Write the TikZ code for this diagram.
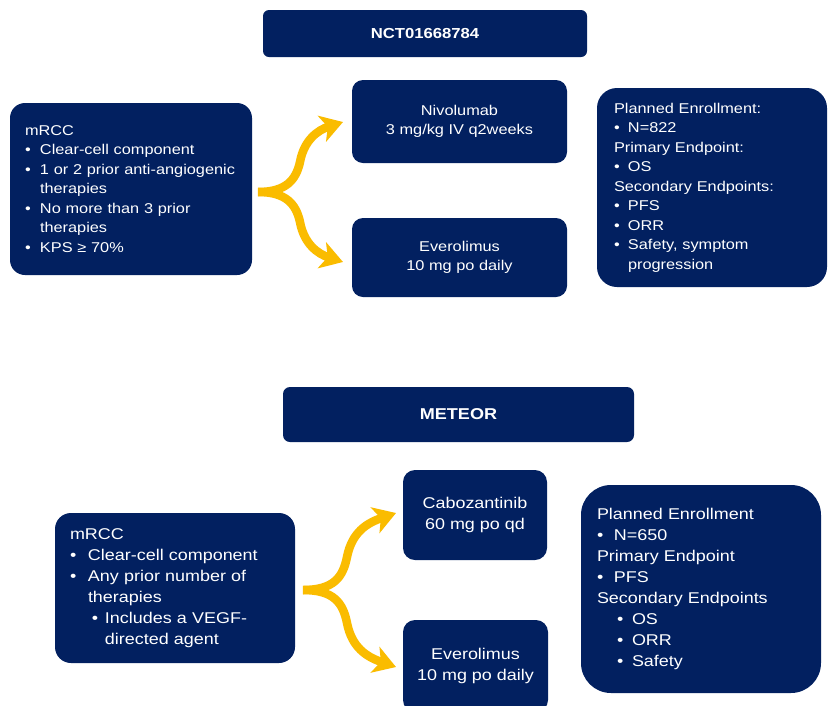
\documentclass[tikz,border=0pt]{standalone}
\usepackage{fontspec}
\setmainfont{Liberation Sans}[FakeStretch=1.15]
\usetikzlibrary{arrows.meta}
\definecolor{navy}{RGB}{2,32,96}
\definecolor{gold}{RGB}{250,188,0}
\newcommand\bA{\makebox[15pt][l]{•}}
\newcommand\bB{\makebox[14pt][l]{•}}
\newcommand\bC{\makebox[18pt][l]{•}}
\newcommand\bD{\makebox[17pt][l]{•}}
\tikzset{
  box/.style={fill=navy, text=white, inner ysep=2pt},
  leftbox/.style={box, align=left, inner xsep=15pt},
  midbox/.style={box, align=center, inner xsep=4pt},
  titlebox/.style={box, align=center, font=\bfseries},
  topfont/.style={font=\fontsize{14.2}{19.5}\selectfont},
  botfont/.style={font=\fontsize{15.6}{21}\selectfont},
  fork/.style={draw=gold, line width=8.5pt, line cap=butt,
    -{Stealth[length=22pt,width=27pt,inset=6pt]}}
}
\begin{document}
\begin{tikzpicture}[x=1pt,y=-1pt]
\useasboundingbox (0,0) rectangle (828,705);
\clip (0,0) rectangle (828,705);
\fill[white] (0,0) rectangle (828,705);

% ---------- top section ----------
\node[titlebox, rounded corners=6pt, minimum width=324pt, minimum height=47pt,
  font=\fontsize{14.5}{17}\selectfont\bfseries] (t1) at (425,33.5) {NCT01668784};

\node[leftbox, topfont, rounded corners=15pt, text width=212pt,
  minimum height=172pt] (l1) at (131,189) {%
mRCC\\
\bA Clear-cell component\\
\bA 1 or 2 prior anti-angiogenic\\
\hspace*{15pt}therapies\\
\bA No more than 3 prior\\
\hspace*{15pt}therapies\\
\bA KPS ≥ 70\%};

\node[midbox, topfont, rounded corners=11pt, minimum width=215pt,
  minimum height=83pt] (n1) at (459.5,121.5) {Nivolumab\\3 mg/kg IV q2weeks};
\node[midbox, topfont, rounded corners=11pt, minimum width=215pt,
  minimum height=79pt] (e1) at (459.5,257.5) {Everolimus\\10 mg po daily};

\node[leftbox, topfont, inner xsep=17pt, rounded corners=20pt, text width=196pt,
  minimum height=199pt] (r1) at (712,187.5) {%
Planned Enrollment:\\
\bB N=822\\
Primary Endpoint:\\
\bB OS\\
Secondary Endpoints:\\
\bB PFS\\
\bB ORR\\
\bB Safety, symptom\\
\hspace*{14pt}progression};

\coordinate (s1) at (258,192);
\coordinate (u1) at (343,122);
\coordinate (d1) at (343,262);
\draw[fork] (s1) .. controls +(28,0) and (296,180) .. (300,162)
  .. controls (304,140) and (318,130) .. (u1);
\draw[fork] (s1) .. controls +(28,0) and (296,204) .. (300,222)
  .. controls (304,244) and (318,254) .. (d1);

% ---------- bottom section ----------
\node[titlebox, rounded corners=7pt, minimum width=351pt, minimum height=55pt,
  font=\fontsize{15.7}{18}\selectfont\bfseries] (t2) at (458.5,414.5) {METEOR};

\node[leftbox, botfont, rounded corners=16pt, text width=210pt,
  minimum height=150pt] (l2) at (175,588) {%
mRCC\\
\bC Clear-cell component\\
\bC Any prior number of\\
\hspace*{18pt}therapies\\
\hspace*{22pt}\makebox[13pt][l]{•}Includes a VEGF-\\
\hspace*{35pt}directed agent};

\node[midbox, botfont, rounded corners=12pt, minimum width=144pt,
  minimum height=90pt] (c2) at (475,515) {Cabozantinib\\60 mg po qd};
\node[midbox, botfont, rounded corners=12pt, minimum width=145pt,
  minimum height=92pt] (e2) at (475.5,666) {Everolimus\\10 mg po daily};

\node[leftbox, botfont, inner xsep=16pt, rounded corners=30pt, text width=208pt,
  minimum height=208pt] (r2) at (701,589) {%
Planned Enrollment\\
\bD N=650\\
Primary Endpoint\\
\bD PFS\\
Secondary Endpoints\\
\hspace*{20pt}\makebox[15pt][l]{•}OS\\
\hspace*{20pt}\makebox[15pt][l]{•}ORR\\
\hspace*{20pt}\makebox[15pt][l]{•}Safety};

\coordinate (s2) at (303,590);
\coordinate (u2) at (396,513);
\coordinate (d2) at (396,667);
\draw[fork] (s2) .. controls +(31,0) and (343,577) .. (347,557)
  .. controls (352,532) and (367,523) .. (u2);
\draw[fork] (s2) .. controls +(31,0) and (343,603) .. (347,623)
  .. controls (352,648) and (367,657) .. (d2);
\end{tikzpicture}
\end{document}
